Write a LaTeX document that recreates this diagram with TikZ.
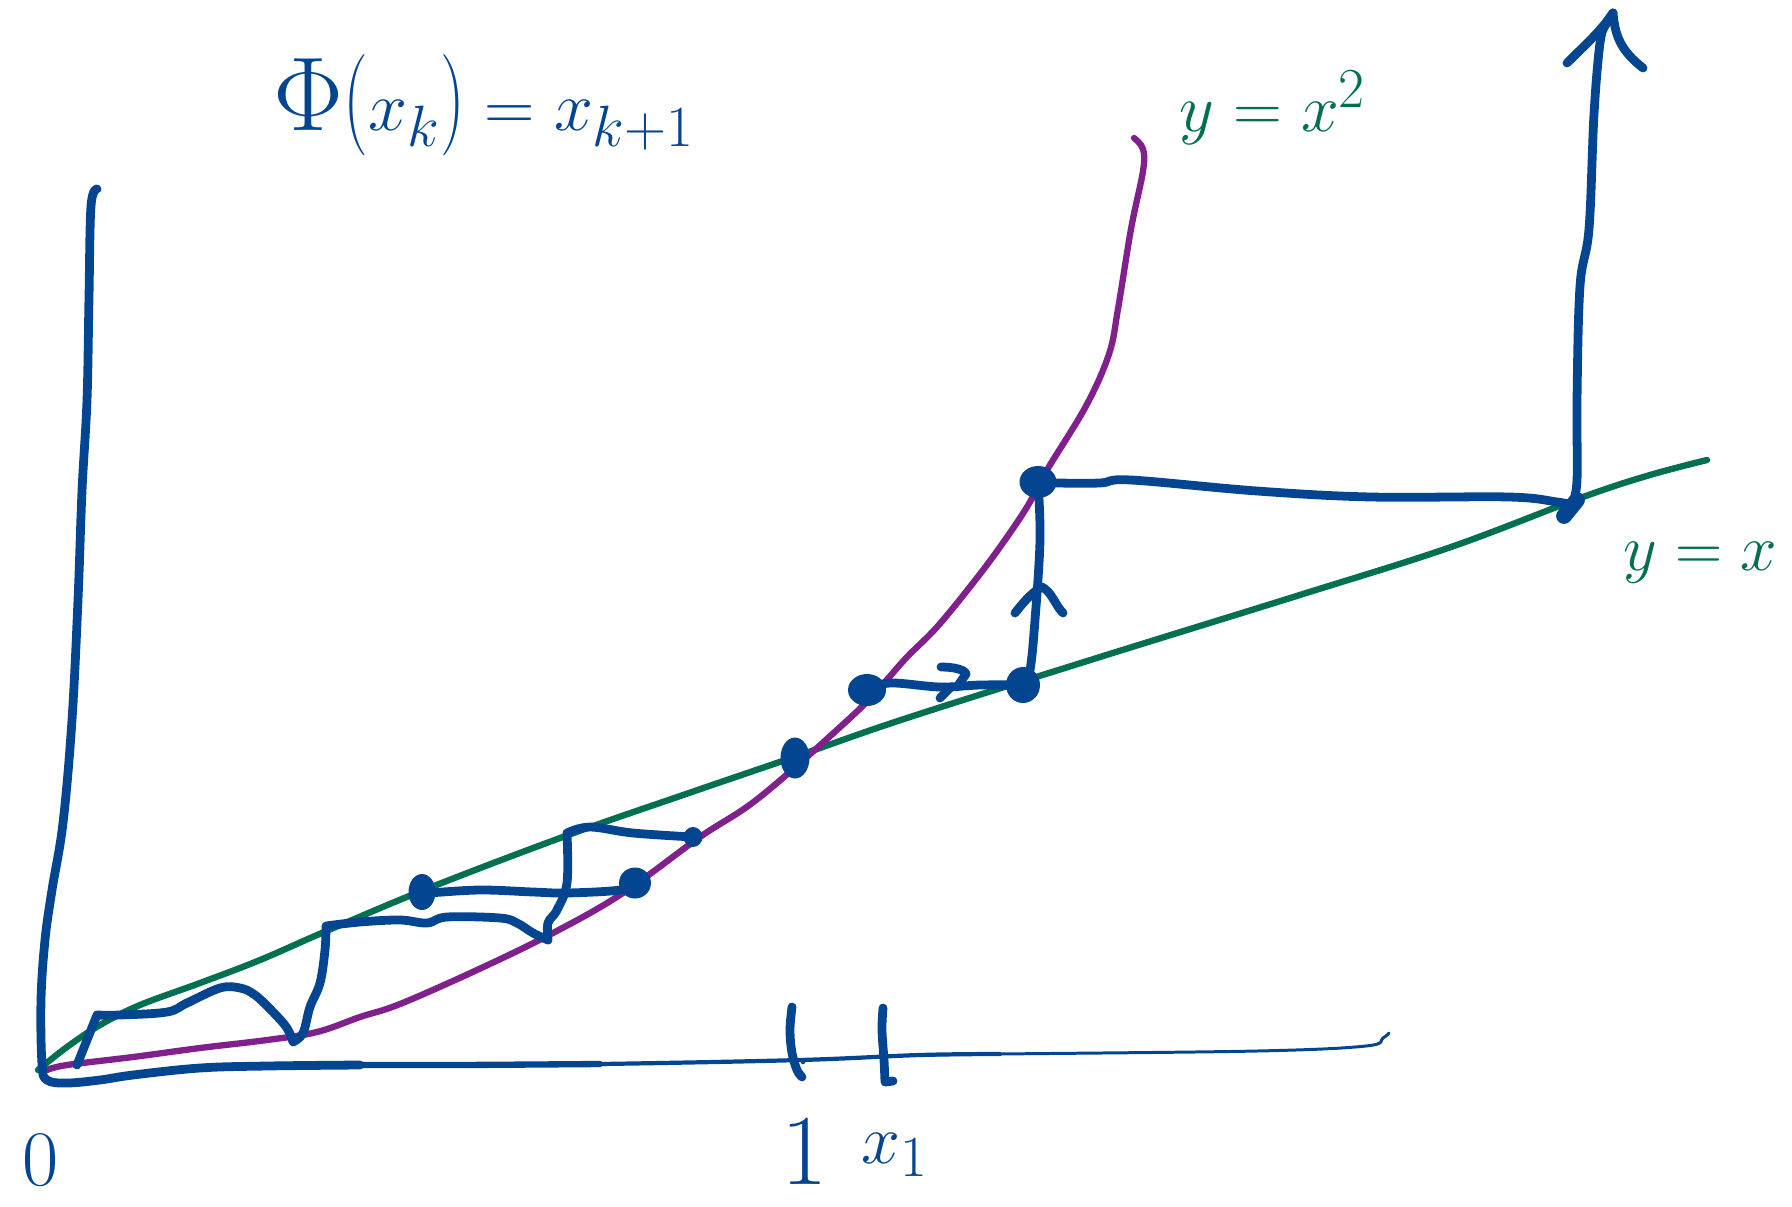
\documentclass[tikz,border=0pt]{standalone}
\usepackage{graphicx}
\definecolor{pblue}{RGB}{4,69,145}
\definecolor{pgreen}{RGB}{0,112,80}
\definecolor{ppurple}{RGB}{128,32,140}
\tikzset{
  ink/.style={line cap=round, line join=round},
  blueink/.style={ink, line width=5pt, draw=pblue},
  greenink/.style={ink, line width=3.6pt, draw=pgreen},
  purpleink/.style={ink, line width=3.6pt, draw=ppurple},
  blob/.style={fill=pblue},
  bluelabel/.style={text=pblue, font=\Huge, inner sep=0pt},
  greenlabel/.style={text=pgreen, font=\Huge, inner sep=0pt},
}
\begin{document}
\begin{tikzpicture}[x=0.02cm, y=-0.02cm]
\useasboundingbox (0,0) rectangle (1792,1207);
% key points
\coordinate (O) at (40,1069);
\coordinate (Q1) at (1038,482);
\coordinate (Q2) at (1023,685);
\coordinate (Q3) at (867,690);
\coordinate (Fix) at (795,758);
\coordinate (L1) at (422,892);
\coordinate (L2) at (635,883);
\coordinate (L3) at (693,837);
\coordinate (C) at (1572,505);
\coordinate (Top) at (1613,13);

% y = x (green)
\draw[greenink] plot[smooth, tension=0.6] coordinates {(38,1070) (67,1047) (100,1025) (140,1005) (200,983) (260,960) (331,929) (434,886) (571,834) (686,794) (800,755) (907,718) (1100,657) (1303,594) (1451,547) (1583,497) (1650,475) (1707,460)};

% y = x^2 (purple)
\draw[purpleink] plot[smooth, tension=0.6] coordinates {(47,1070) (67,1065) (133,1057) (200,1048) (267,1040) (317,1032) (360,1017) (400,1004) (477,970) (553,933) (623,893) (700,837) (760,797) (850,718) (883,684) (907,657) (937,627) (973,583) (1000,547) (1027,507) (1047,470) (1086,406) (1109,354) (1118,309) (1131,229) (1143,171) (1143,149) (1134,138)};

% vertical axis
\draw[blueink] plot[smooth, tension=0.6] coordinates {(97,189) (91,206) (89,297) (87,400) (82,491) (78,600) (72,720) (63,823) (52,890) (45,940) (41,1000) (42,1064) (47,1080) (67,1083) (100,1080) (133,1075) (200,1068) (267,1066) (360,1065)};
% horizontal axis, tapering
\draw[ink, draw=pblue, line width=3.6pt] plot[smooth, tension=0.6] coordinates {(267,1066) (360,1065) (457,1065) (600,1064)};
\draw[ink, draw=pblue, line width=2.4pt] plot[smooth, tension=0.6] coordinates {(457,1065) (600,1064) (800,1060) (920,1055) (1000,1054)};
\draw[ink, draw=pblue, line width=1.7pt] plot[smooth, tension=0.6] coordinates {(920,1055) (1000,1054) (1257,1051) (1366,1046) (1383,1038) (1389,1033)};

% ticks
\draw[blueink] plot[smooth, tension=0.6] coordinates {(792,1007) (790,1030) (792,1053) (797,1070) (802,1077)};
\draw[blueink] plot[smooth, tension=0.6] coordinates {(883,1008) (882,1030) (884,1060) (885,1082)} -- (893,1081);
\fill[pblue] (803,1062) circle[radius=0.45mm];

% lower cobweb path
\draw[blueink] (77,1065) -- (97,1015)
  -- plot[smooth, tension=0.6] coordinates {(97,1015) (120,1015) (167,1012) (187,1003) (220,988) (240,988) (255,995) (273,1012) (287,1028) (293,1042)}
  -- plot[smooth, tension=0.6] coordinates {(293,1042) (303,1033) (310,1007) (320,983) (325,950) (326,926)}
  -- plot[smooth, tension=0.6] coordinates {(326,926) (360,922) (400,920) (427,923) (447,917) (500,918) (517,923) (533,933) (548,940)}
  -- plot[smooth, tension=0.6] coordinates {(548,940) (548,923) (557,910) (567,883) (567,833)}
  -- plot[smooth, tension=0.6] coordinates {(567,833) (590,827) (633,833) (L3)};
\draw[blueink] plot[smooth, tension=0.6] coordinates {(L1) (427,893) (480,890) (533,892) (567,893) (620,890) (L2)};

% upper cobweb
\draw[blueink] plot[smooth, tension=0.6] coordinates {(Q3) (890,683) (940,687) (980,685) (Q2)};
\draw[blueink] plot[smooth, tension=0.6] coordinates {(Q2) (1030,670) (1035,620) (1040,540) (Q1)};
\draw[blueink] plot[smooth, tension=0.6] coordinates {(Q1) (1057,483) (1100,483) (1131,480) (1257,491) (1371,497) (1509,497) (1557,502) (C)};
\draw[blueink] plot[smooth, tension=0.6] coordinates {(C) (1577,480) (1577,400) (1580,286) (1589,229) (1594,114) (1600,43) (1606,24) (Top)};
% arrowheads
\draw[blueink] (1567,63) .. controls (1585,45) and (1600,32) .. (Top);
\draw[blueink] (Top) .. controls (1615,35) and (1620,50) .. (1643,68);
\draw[blueink] (1015,613) .. controls (1025,600) and (1035,590) .. (1042,587) .. controls (1052,592) and (1055,605) .. (1063,613);
\draw[blueink] (941,667) .. controls (955,667) and (965,670) .. (966,674) -- (959,684);
\draw[blueink] (940,698) -- (951,687);

% dots
\fill[blob] (Q1) ellipse[x radius=3.7mm, y radius=3.2mm];
\fill[blob] (Q2) ellipse[x radius=3.4mm, y radius=3.6mm];
\fill[blob] (Q3) ellipse[x radius=3.8mm, y radius=3.2mm];
\fill[blob] (Fix) ellipse[x radius=2.9mm, y radius=4.1mm];
\fill[blob] (L1) ellipse[x radius=2.7mm, y radius=3.6mm];
\fill[blob] (L2) ellipse[x radius=3.2mm, y radius=3.1mm];
\fill[blob] (L3) ellipse[x radius=1.9mm, y radius=2.0mm];
\draw[pblue, line width=9pt, line cap=round] (1564,516) -- (1577,500);

% labels
\node[bluelabel, scale=1.6] (phi) at (484,105) {$\scalebox{1.5}{$\Phi$}\scalebox{1}[1.45]{$($}x_k\scalebox{1}[1.45]{$)$} = x_{k+1}$};
\node[greenlabel, scale=1.55] (lblsq) at (1273,108) {$y = x^2$};
\node[greenlabel, scale=1.5] (lblid) at (1700,563) {$y = x$};
\node[bluelabel, scale=1.8] (zero) at (41,1160) {$0$};
\node[bluelabel, scale=2.3] (one) at (805,1152) {$1$};
\node[bluelabel, scale=1.6] (xone) at (895,1155) {$x_1$};
\end{tikzpicture}
\end{document}
